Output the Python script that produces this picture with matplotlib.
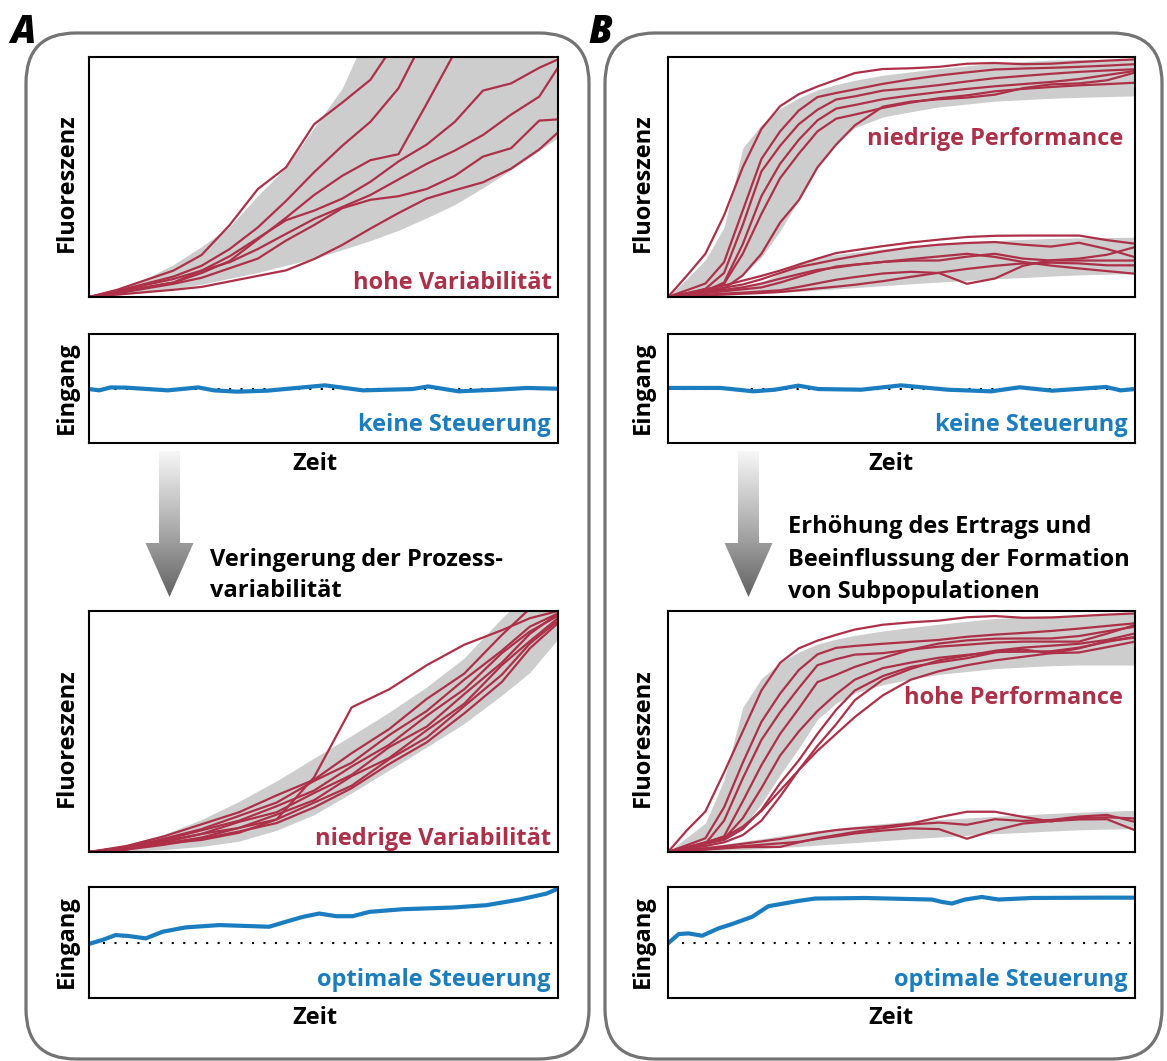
import numpy as np
import matplotlib
matplotlib.use('Agg')
import matplotlib.pyplot as plt
from matplotlib.patches import FancyBboxPatch, Polygon
from matplotlib.colors import LinearSegmentedColormap

plt.rcParams['font.family'] = ['Open Sans', 'DejaVu Sans']
plt.rcParams['font.weight'] = 'bold'

RED = '#ad3048'
BLUE = '#1a7dc0'
BAND = '#cdcdcd'

# ---------------- data (time and signal in % of axis range) ----------------
# A, top: hohe Variabilitaet
T_A1 = [0, 6, 12, 18, 24, 30, 36, 42, 48, 54, 60, 66, 72, 78, 84, 90, 96, 100]
A1_BAND_LO = [0, 0.8, 1.9, 3.5, 5.3, 7.8, 10.2, 13.2, 16, 19.7, 23.5, 27.8, 33, 38.5, 45.5, 53, 61, 66.5]
A1_BAND_HI = [0, 3, 7.5, 13.5, 21, 29.3, 42.3, 54, 70.5, 87, 113, 130, 140, 150, 160, 170, 180, 185]
A1_TRAJ = [
    [0, 3, 7, 11, 17.5, 30, 45, 54, 72, 81, 90.5, 108, 118, 125, 130, 135, 140, 142],
    [0, 2.5, 5.5, 8.5, 13, 20, 29, 40, 52, 63, 73, 87, 110, 120, 125, 130, 135, 140],
    [0, 2, 4, 6, 10, 15, 24, 33, 42.5, 50.5, 57, 59.5, 80.5, 102, 115, 120, 125, 130],
    [0, 2, 4, 6, 11, 17, 24.5, 32, 36, 41, 48, 56.5, 63.5, 73, 86, 89, 95.5, 99],
    [0, 2, 5, 7.5, 11, 14.5, 20, 26.3, 32.5, 37.5, 42.5, 49, 55.5, 61, 67.5, 76, 83.5, 95.6],
    [0, 1.5, 3.5, 5.5, 8, 12, 16, 23.5, 30, 37, 40.5, 42, 45, 50.5, 58.5, 62, 73.5, 74],
    [0, 1, 2, 3, 4.2, 6.5, 8.8, 11.1, 15.8, 21.7, 28.5, 35, 41, 44.5, 47.8, 53.5, 61.5, 68.6],
]

# A, bottom: niedrige Variabilitaet
T_A2 = [0, 8, 16, 24, 32, 40, 48, 56, 64, 72, 80, 88, 94, 100]
A2_BAND_LO = [0, 0.5, 1, 2.3, 4.5, 9, 15.5, 24.5, 34, 43.5, 53.3, 65, 74.5, 88.4]
A2_BAND_HI = [0, 3, 7.3, 13.5, 21, 29.5, 39, 48.3, 58, 68.5, 80.5, 97, 108, 118]
A2_TRAJ = [
    [0, 2.5, 6.5, 11.5, 16.5, 23.5, 30, 41, 51, 63.5, 74, 90, 101, 110],
    [0, 2, 5.5, 9.5, 15, 20.5, 29.5, 37, 48.5, 58.5, 71.5, 83.5, 93.5, 99],
    [0, 1.5, 5, 9, 13, 19, 25.5, 35.5, 44.5, 56.5, 67.5, 82.5, 91.5, 98],
    [0, 2, 4.5, 7.5, 12.5, 16.5, 24.5, 32, 43.5, 52, 65.5, 78.5, 90.5, 99],
    [0, 1, 4, 7.5, 10, 15.5, 21.5, 31.5, 39, 50.5, 61.5, 77.5, 87.5, 97],
    [0, 1.5, 3.5, 6, 10, 13.5, 20.5, 27.5, 38.5, 47.5, 60.5, 73.5, 86.5, 96],
    [0, 1, 3, 5.5, 8.5, 12, 18.5, 26.5, 36.5, 45.5, 57.5, 70.5, 84.5, 95],
    [0, 2, 3.5, 5, 8, 13.5, 31, 60, 67.5, 77.5, 86, 92, 97, 100],
]

# B, shared time grid
T_B = [0, 4, 8, 12, 16, 20, 24, 28, 32, 36, 40, 46, 52, 58, 64, 70, 76, 82, 88, 94, 100]

# B, top: niedrige Performance
B1_HIGH_LO = [0, 1.5, 3, 4.8, 9.5, 16.5, 27.5, 40.5, 55, 64.5, 70.5, 75, 77.2, 79.2, 80.4, 81.6, 82.2, 82.8, 83.2, 83.5, 83.8]
B1_HIGH_HI = [0, 7.5, 15.5, 29, 62, 71.8, 78.5, 83, 86.3, 88.5, 90.3, 92.4, 93.8, 95.2, 96.3, 97.5, 98.1, 98.7, 99, 99, 99]
B1_LOW_LO = [0, 0.3, 0.6, 0.8, 1, 1.3, 1.9, 2.3, 2.9, 3.4, 3.9, 4.7, 5.5, 6.2, 6.9, 7.6, 8.1, 8.7, 9.2, 9.5, 9.7]
B1_LOW_HI = [0, 1.2, 2.4, 3.6, 4.8, 6, 10, 14.5, 16.7, 17.7, 18.6, 20, 21.2, 22, 22.9, 23.5, 24, 24.4, 24.6, 24.8, 24.9]
B1_HIGH_TRAJ = [
    [0, 8.8, 18, 34, 54, 70, 79.5, 84.5, 87.7, 90.5, 93.3, 95, 95.3, 95.9, 97.2, 97.5, 97, 97.2, 97.9, 98.5, 99],
    [0, 2.8, 5.6, 14.5, 36, 57.5, 69, 77.7, 83.3, 85, 86.5, 88.8, 90.7, 92.3, 93.6, 94.8, 95.2, 95.5, 95.9, 96.4, 97],
    [0, 1.5, 3.4, 10, 30, 52.3, 63, 72, 78, 82.3, 83.6, 86, 87, 88.3, 89.8, 91.2, 92.1, 93, 93.8, 94.4, 94.9],
    [0, 1, 2.5, 6, 22, 42, 55.5, 65.5, 73.6, 78.5, 80, 82.4, 84, 85.4, 86.7, 87.8, 88.7, 89.6, 90.8, 92.5, 94.2],
    [0, 1, 2.5, 5.5, 18, 34.6, 49.5, 59.7, 69, 74.3, 76, 78.8, 81, 82.8, 84, 85.7, 86.7, 87.5, 88.2, 88.7, 89.3],
    [0, 1, 2, 3.5, 9, 18, 31, 40.3, 54, 63.5, 71.5, 79.3, 81.4, 82.4, 83.1, 84.3, 87, 88.6, 89, 90.3, 93.5],
]
B1_LOW_TRAJ = [
    [0, 1.6, 3.2, 4.8, 6.8, 8.8, 11, 13.5, 16, 18.3, 19.5, 21.2, 22.7, 23.9, 25, 25.5, 25.6, 25.6, 25.6, 23.7, 22.2],
    [0, 1.3, 2.6, 3.9, 5.2, 7.4, 10, 12.5, 14, 15.6, 17, 19, 20.7, 21.8, 22.5, 22.9, 21.8, 21, 22.6, 20, 16.6],
    [0, 1, 2, 3, 4, 5.6, 7.6, 9.5, 11.3, 12.3, 13.4, 14.6, 15.8, 16.9, 18, 16.7, 14.6, 13.1, 11.9, 10.8, 9.7],
    [0, 0.8, 1.6, 2.4, 3.2, 4, 6, 8.4, 10.7, 12.7, 13.5, 14.6, 15.2, 15.2, 16.8, 18, 16, 15.2, 15.2, 15.2, 15.2],
    [0, 0.5, 0.9, 1.4, 1.8, 2.3, 2.8, 4.2, 5.7, 7.2, 8.3, 9.8, 10.5, 10, 5.5, 7.7, 13, 15.3, 16, 17.6, 20.8],
    [0, 0.3, 0.7, 1, 1.4, 1.7, 2.1, 2.8, 3.6, 4.3, 5.1, 6.6, 8.4, 10.1, 11.7, 13, 14, 14.3, 14, 13.2, 13.2],
]

# B, bottom: hohe Performance
B2_HIGH_LO = [0, 1, 2.2, 5, 9.8, 20, 32, 43, 55, 61.7, 66, 69.4, 71.7, 73.7, 74.9, 76.1, 76.7, 77.3, 77.6, 77.6, 77.6]
B2_HIGH_HI = [0, 6, 12, 30, 60, 72, 78.5, 83, 86.3, 88.3, 89.9, 91.7, 93.2, 94.5, 95.7, 96.9, 97.5, 98, 98.4, 98.7, 99]
B2_LOW_LO = [0, 0.3, 0.6, 0.8, 1, 1.3, 1.9, 2.3, 2.9, 3.4, 3.9, 4.7, 5.5, 6.2, 6.9, 7.6, 8.1, 8.7, 9.2, 9.5, 9.7]
B2_LOW_HI = [0, 1, 2.2, 3.3, 4.4, 5.5, 6.7, 7.8, 8.8, 9.8, 10.7, 11.8, 12.8, 13.5, 14.1, 14.8, 15.4, 16, 16.5, 16.9, 17.3]
B2_HIGH_TRAJ = [
    [0, 8.9, 16.8, 33, 50, 67, 78.5, 84.5, 87.7, 90.1, 92.3, 94.3, 95.3, 96, 97.4, 97.9, 97.2, 97.3, 97.9, 98.5, 99],
    [0, 2.8, 5.7, 18.5, 37, 54, 65.7, 75.5, 82, 84.7, 85.5, 86.4, 87.2, 88, 89.3, 90.2, 90.9, 91.7, 92.7, 93.8, 94.9],
    [0, 1.7, 3.4, 13, 30.5, 46.5, 58, 68, 77.5, 80, 81.9, 82.5, 84, 86.5, 87.8, 88.5, 88.6, 88.6, 89.6, 91.6, 93.5],
    [0, 1.9, 3.9, 6.5, 21, 36, 49, 59.5, 70.5, 73.5, 76.8, 80.5, 84, 85.2, 86, 86.9, 87.3, 87.3, 87.3, 90.6, 94.2],
    [0, 1.8, 3.6, 5.5, 14, 26.5, 40, 50, 58.5, 65.5, 71.5, 76.3, 78.6, 80.6, 81.8, 83, 83.1, 83.3, 84.8, 87.2, 89.3],
    [0, 1.7, 3.4, 5, 9.5, 17.5, 28.5, 38, 49, 59, 67, 73, 76.8, 78.7, 80.4, 82.8, 84, 82.5, 82.8, 85, 87.3],
    [0, 2, 4, 6, 10.5, 17, 25.5, 34, 44, 53, 63, 71.5, 76, 79.5, 81.5, 83.5, 84.8, 85.6, 86.4, 88, 90.7],
    [0, 1.2, 2.5, 4, 7, 13, 23, 34, 42, 49, 56, 65, 71.5, 75, 77.5, 79.5, 81, 82.5, 84.5, 87.5, 89],
]
B2_LOW_TRAJ = [
    [0, 0.8, 1.6, 2.4, 3.4, 4.4, 5.4, 6.7, 8, 9.1, 9.8, 10.6, 11.8, 14.4, 16.7, 16.7, 14.6, 12.7, 14.1, 14.4, 13.9],
    [0, 0.5, 1, 1.5, 2, 2.1, 2.1, 4, 5.7, 7, 8.3, 9.9, 11.4, 12.2, 11.3, 13.6, 12.9, 13.3, 14.7, 15.4, 12.5],
    [0, 0.6, 1.2, 1.8, 2.4, 3, 3.6, 4.2, 5.4, 6.5, 7.7, 8.9, 9.8, 9.5, 5.5, 9, 11.8, 12.8, 13.5, 13.6, 9],
]

# inputs (Eingang), 50 = nominal level
BASELINE = 50
T_IN_A1 = [0, 2.2, 4.6, 7.9, 16.8, 23.3, 26.6, 31.5, 38, 50.3, 58.4, 69, 72.3, 78.8, 86.9, 93.4, 100]
IN_A1 = [49.5, 48.3, 51, 50.8, 48.3, 51, 48.3, 47.1, 48, 52.9, 48.3, 49.5, 51.9, 47.4, 48.9, 50.5, 49.8]
T_IN_B1 = [0, 11.3, 18.3, 22.9, 27.9, 32.2, 41.4, 49.9, 59.9, 69.2, 75.3, 82.3, 93.8, 96.9, 100]
IN_B1 = [50.5, 50.5, 47.4, 48.9, 52.6, 49.5, 48.9, 52.9, 48.9, 47.4, 51.1, 48, 51.4, 48.3, 49.5]
T_IN_A2 = [0, 2.8, 5.7, 8.5, 12.1, 15.7, 20.6, 27.8, 38.4, 42, 45.6, 49.1, 52.7, 56.2, 59.8, 66.9, 77.6, 84.7, 91.8, 97.5, 100]
IN_A2 = [48.7, 52.2, 56.7, 55.8, 53.7, 59.7, 63.6, 65.7, 64.2, 68.7, 73.1, 76.1, 73.7, 73.7, 77.6, 80, 81.5, 83.6, 88.7, 94, 98.5]
T_IN_B2 = [0, 2.3, 4.4, 7.3, 10.8, 13.7, 18, 21.5, 28, 31.5, 42.2, 56.5, 58.6, 60.8, 63.6, 67.2, 70.8, 77.9, 92.2, 100]
IN_B2 = [49.3, 57.6, 58.2, 56.1, 62.7, 66.6, 73.1, 82.7, 87.5, 89.6, 90.1, 88.7, 86.6, 85.1, 88.7, 91, 88.7, 90.1, 90.4, 90.4]

# ---------------- figure ----------------
W, H = 1167, 1061
FS = 17
fig = plt.figure(figsize=(W / 100, H / 100), dpi=100)

# background layer in pixel coordinates (frames, arrows, free text)
bg = fig.add_axes([0, 0, 1, 1])
bg.set_xlim(0, W)
bg.set_ylim(H, 0)
bg.axis('off')

for x0, x1 in [(26, 589), (605, 1162)]:
    bg.add_patch(FancyBboxPatch((x0, 33), x1 - x0, 1026,
                                boxstyle='round,pad=0,rounding_size=50',
                                fc='none', ec='#737373', lw=2.3))

bg.text(10, 43, 'A', fontsize=27, fontstyle='italic', fontweight='black', color='k')
bg.text(588, 43, 'B', fontsize=27, fontstyle='italic', fontweight='black', color='k')

grad = LinearSegmentedColormap.from_list('g', ['#f7f7f7', '#b0b0b0', '#626262'])
for cx in [169.5, 748.5]:
    pts = [(cx - 10.5, 451), (cx + 10.5, 451), (cx + 10.5, 543), (cx + 24, 543),
           (cx, 597), (cx - 24, 543), (cx - 10.5, 543)]
    poly = Polygon(pts, closed=True, fc='none', ec='none')
    bg.add_patch(poly)
    im = bg.imshow(np.linspace(0, 1, 200).reshape(-1, 1), cmap=grad, aspect='auto',
                   extent=(cx - 25, cx + 25, 597, 451), interpolation='bilinear')
    im.set_clip_path(poly)
bg.set_xlim(0, W)
bg.set_ylim(H, 0)

bg.text(210, 566, 'Veringerung der Prozess-', fontsize=FS)
bg.text(210, 597, 'variabilität', fontsize=FS)
bg.text(788, 533, 'Erhöhung des Ertrags und', fontsize=FS)
bg.text(788, 566, 'Beeinflussung der Formation', fontsize=FS)
bg.text(788, 598, 'von Subpopulationen', fontsize=FS)


def px_axes(x0, y0, x1, y1):
    ax = fig.add_axes([x0 / W, 1 - y1 / H, (x1 - x0) / W, (y1 - y0) / H])
    ax.set_xlim(0, 100)
    ax.set_ylim(0, 100)
    ax.set_xticks([])
    ax.set_yticks([])
    for s in ax.spines.values():
        s.set_linewidth(1.5)
    return ax


def fluor(ax, t, bands, trajs, label, lx, ly):
    for lo, hi in bands:
        ax.fill_between(t, lo, hi, color=BAND, lw=0, zorder=1)
    for tr in trajs:
        ax.plot(t, tr, color=RED, lw=1.6, zorder=2, solid_capstyle='round')
    ax.text(lx, ly, label, color=RED, fontsize=FS, ha='right', va='baseline',
            transform=ax.transAxes, zorder=3)


def eingang(ax, t, u, label):
    ax.axhline(BASELINE, xmin=0.03, color='k', lw=1.5, ls=(0, (1, 4.5)), zorder=1)
    ax.plot(t, u, color=BLUE, lw=3, zorder=2)
    ax.text(0.985, 0.11, label, color=BLUE, fontsize=FS, ha='right', va='baseline',
            transform=ax.transAxes)


AX_X = {'A': (89, 558), 'B': (668, 1135)}
ZEIT_X = {'A': 315, 'B': 891}
YLAB_X = {'A': 67, 'B': 643}

for p in ['A', 'B']:
    x0, x1 = AX_X[p]
    f1 = px_axes(x0, 57, x1, 297)
    i1 = px_axes(x0, 334, x1, 443)
    f2 = px_axes(x0, 611, x1, 852)
    i2 = px_axes(x0, 887, x1, 998)
    if p == 'A':
        fluor(f1, T_A1, [(A1_BAND_LO, A1_BAND_HI)], A1_TRAJ, 'hohe Variabilität', 0.986, 0.035)
        fluor(f2, T_A2, [(A2_BAND_LO, A2_BAND_HI)], A2_TRAJ, 'niedrige Variabilität', 0.986, 0.03)
        eingang(i1, T_IN_A1, IN_A1, 'keine Steuerung')
        eingang(i2, T_IN_A2, IN_A2, 'optimale Steuerung')
    else:
        fluor(f1, T_B, [(B1_HIGH_LO, B1_HIGH_HI), (B1_LOW_LO, B1_LOW_HI)],
              B1_HIGH_TRAJ + B1_LOW_TRAJ, 'niedrige Performance', 0.975, 0.634)
        fluor(f2, T_B, [(B2_HIGH_LO, B2_HIGH_HI), (B2_LOW_LO, B2_LOW_HI)],
              B2_HIGH_TRAJ + B2_LOW_TRAJ, 'hohe Performance', 0.975, 0.616)
        eingang(i1, T_IN_B1, IN_B1, 'keine Steuerung')
        eingang(i2, T_IN_B2, IN_B2, 'optimale Steuerung')

    yl = YLAB_X[p]
    for txt, yc in [('Fluoreszenz', 183), ('Eingang', 388), ('Fluoreszenz', 738), ('Eingang', 942)]:
        bg.text(yl, yc, txt, fontsize=FS, rotation=90, ha='center', va='center')
    bg.text(ZEIT_X[p], 470, 'Zeit', fontsize=FS, ha='center', va='baseline')
    bg.text(ZEIT_X[p], 1024, 'Zeit', fontsize=FS, ha='center', va='baseline')

fig.savefig('out.png', dpi=100)
